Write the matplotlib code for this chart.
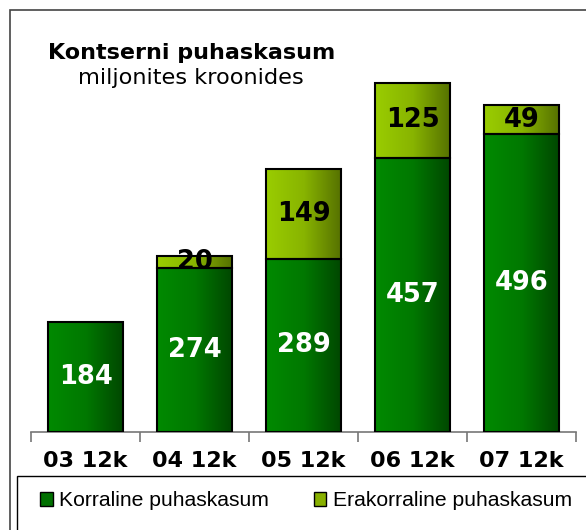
import numpy as np
import matplotlib.pyplot as plt
from matplotlib.patches import Rectangle, Patch
from matplotlib.colors import LinearSegmentedColormap

categories = ['03 12k', '04 12k', '05 12k', '06 12k', '07 12k']
korraline = [184, 274, 289, 457, 496]
erakorraline = [0, 20, 149, 125, 49]
legend_labels = ['Korraline puhaskasum', 'Erakorraline puhaskasum']

fig = plt.figure(figsize=(5.86, 5.3), dpi=100)

# outer frame and legend frame (cut off at right/bottom like the reference)
fig.patches.append(Rectangle((10 / 586, -0.1), 1.0, 1.1 - 10 / 530, transform=fig.transFigure,
                             fill=False, edgecolor='#444444', linewidth=1.2))
fig.patches.append(Rectangle((17 / 586, -0.1), 1.0, 0.1 + (530 - 476) / 530, transform=fig.transFigure,
                             fill=False, edgecolor='black', linewidth=1.0))

ax = fig.add_axes([31 / 586, (530 - 432) / 530, 545 / 586, 420 / 530])
x = np.arange(len(categories))
w = 0.69

dark = LinearSegmentedColormap.from_list('dk', ['#008a00', '#007800', '#004600'])
light = LinearSegmentedColormap.from_list('lt', ['#9acd00', '#88b400', '#557000'])
grad = np.linspace(0, 1, 256).reshape(1, -1)

low = ax.bar(x, korraline, w, color='none', edgecolor='black', linewidth=1.5, zorder=3)
up = ax.bar(x, erakorraline, w, bottom=korraline, color='none', edgecolor='black', linewidth=1.5, zorder=3)

for bars, cmap in ((low, dark), (up, light)):
    for b in bars:
        if b.get_height() <= 0:
            b.set_visible(False)
            continue
        x0, y0 = b.get_x(), b.get_y()
        im = ax.imshow(grad, cmap=cmap, aspect='auto', extent=(x0, x0 + b.get_width(), y0, y0 + b.get_height()),
                       zorder=2)
        im.set_clip_path(b)

for i in range(len(categories)):
    ax.text(x[i], korraline[i] / 2, str(korraline[i]), ha='center', va='center', color='white',
            fontsize=18.5, fontweight='bold', zorder=4)
    if erakorraline[i] > 0:
        ax.text(x[i], korraline[i] + erakorraline[i] / 2, str(erakorraline[i]), ha='center', va='center',
                color='black', fontsize=18.5, fontweight='bold', zorder=4)

ax.set_xlim(-0.5, len(categories) - 0.5)
ax.set_ylim(0, 700)
for s in ('top', 'right', 'left'):
    ax.spines[s].set_visible(False)
ax.spines['bottom'].set_color('#777777')
ax.spines['bottom'].set_linewidth(1.2)
ax.set_yticks([])
ax.set_xticks(x)
ax.set_xticklabels(categories, fontsize=16, fontweight='bold')
ax.tick_params(axis='x', which='major', length=0, pad=14)
ax.set_xticks(np.arange(len(categories) + 1) - 0.5, minor=True)
ax.tick_params(axis='x', which='minor', length=7, width=1.2, color='#777777')
ax.patch.set_alpha(0)

fig.text(48 / 586, 1 - 53 / 530, 'Kontserni puhaskasum', fontsize=16, fontweight='bold', va='center')
fig.text(191 / 586, 1 - 78 / 530, 'miljonites kroonides', fontsize=16.2, ha='center', va='center')

handles = [Patch(facecolor='#007000', edgecolor='black'), Patch(facecolor='#88b000', edgecolor='black')]
fig.legend(handles, legend_labels, loc='center left', bbox_to_anchor=(32 / 586, 1 - 501 / 530), ncol=2,
           frameon=False, prop={'family': 'Liberation Sans', 'size': 15.2}, handlelength=0.6, handleheight=0.6,
           handletextpad=0.3, columnspacing=2.1, borderaxespad=0)

fig.savefig('out.png', dpi=100)
